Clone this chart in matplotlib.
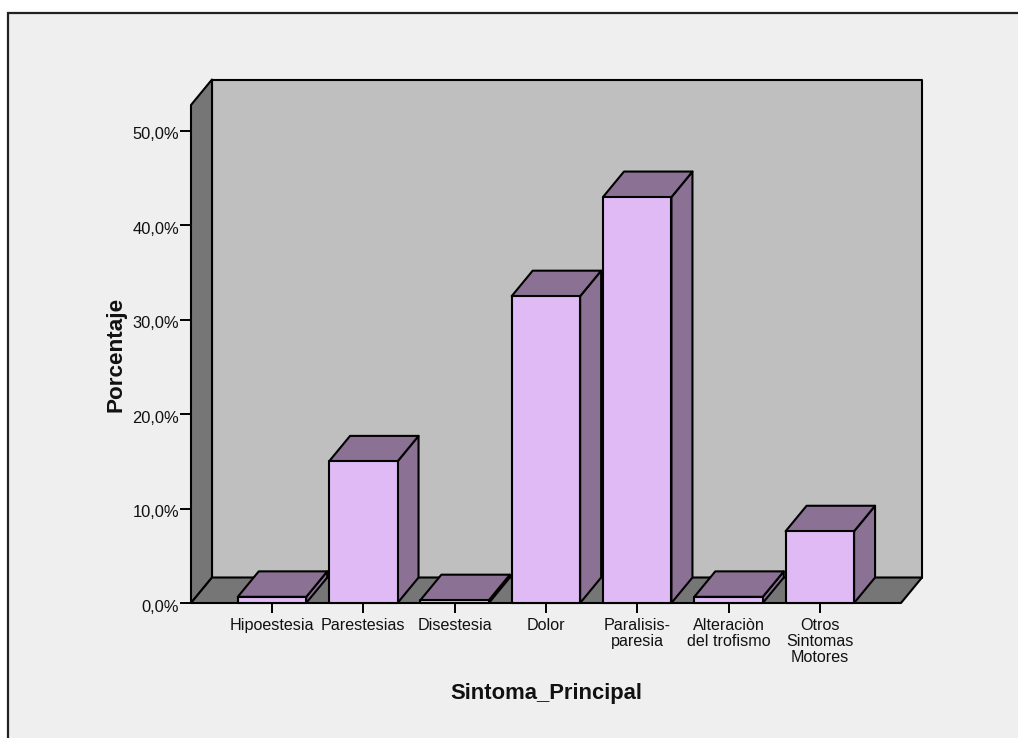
import matplotlib
matplotlib.use("Agg")
import matplotlib.pyplot as plt
from matplotlib.patches import Polygon, Rectangle
from matplotlib.transforms import ScaledTranslation

plt.rcParams["font.family"] = ["Liberation Sans", "DejaVu Sans"]

categories = ["Hipoestesia", "Parestesias", "Disestesia", "Dolor",
              "Paralisis-\nparesia", "Alteraciòn\ndel trofismo",
              "Otros\nSintomas\nMotores"]
percent = [0.65, 15.0, 0.3, 32.5, 43.0, 0.65, 7.6]
y_ticks = [0, 10, 20, 30, 40, 50]
y_labels = ["0,0%", "10,0%", "20,0%", "30,0%", "40,0%", "50,0%"]

W, H = 1018, 738
BAR_FACE = "#DFBAF4"
BAR_DARK = "#8B7294"
WALL = "#BFBFBF"
SIDE = "#767676"
BG = "#EFEFEF"
TEXT = "#111111"
LW = 1.5

fig = plt.figure(figsize=(W / 100, H / 100), dpi=100, facecolor="white")

# outer chart frame runs off the right and bottom edges
fig.patches.append(Rectangle((8 / W, -0.02), 1.1, 1 + 0.02 - 13 / H,
                             transform=fig.transFigure, facecolor=BG,
                             edgecolor="#222222", linewidth=1.6, zorder=-1))

ax = fig.add_axes([191 / W, 1 - 603 / H, (901 - 191) / W, (603 - 105) / H])
ax.patch.set_visible(False)
ax.set_xlim(-0.887, 6.889)
ax.set_ylim(0, 52.75)

# depth of the fake 3D box, in data units
dx = 0.23
dy = 2.7
xmin, xmax = ax.get_xlim()
ymin, ymax = ax.get_ylim()


def poly(points, face, z):
    ax.add_patch(Polygon(points, closed=True, facecolor=face, edgecolor="black",
                         linewidth=LW, joinstyle="round", clip_on=False, zorder=z))


# back wall, left wall and floor
poly([(xmin + dx, dy), (xmax + dx, dy), (xmax + dx, ymax + dy), (xmin + dx, ymax + dy)], WALL, 1)
poly([(xmin, 0), (xmin + dx, dy), (xmin + dx, ymax + dy), (xmin, ymax)], SIDE, 1)
poly([(xmin, 0), (xmax, 0), (xmax + dx, dy), (xmin + dx, dy)], SIDE, 1)

# bars, left to right so each one covers the previous side face
half = 0.375
for i, v in enumerate(percent):
    z = 2 + i
    l, r = i - half, i + half
    poly([(r, 0), (r + dx, dy), (r + dx, v + dy), (r, v)], BAR_DARK, z)
    poly([(l, v), (r, v), (r + dx, v + dy), (l + dx, v + dy)], BAR_DARK, z)
    poly([(l, 0), (r, 0), (r, v), (l, v)], BAR_FACE, z)

for s in ax.spines.values():
    s.set_visible(False)

ax.set_xticks(range(len(categories)))
ax.set_xticklabels(categories, fontsize=11.6, linespacing=1.08, color=TEXT)
ax.set_yticks(y_ticks)
ax.set_yticklabels(y_labels, fontsize=11.9, color=TEXT)
ax.tick_params(axis="x", length=7.5, width=1.4, pad=3.6, color="black")
ax.tick_params(axis="y", length=8, width=1.4, pad=0.6, color="black")

# y labels sit a little below their ticks
nudge = ScaledTranslation(0, -2.5 / 100, fig.dpi_scale_trans)
for lab in ax.get_yticklabels():
    lab.set_transform(lab.get_transform() + nudge)

fig.text(116 / W, 1 - 354.5 / H, "Porcentaje", rotation=90, fontsize=16.2,
         fontweight="bold", ha="center", va="center", color=TEXT)
fig.text(546 / W, 1 - 693.5 / H, "Sintoma_Principal", fontsize=15.8,
         fontweight="bold", ha="center", va="center", color=TEXT)

fig.savefig("out.png", dpi=100, facecolor=fig.get_facecolor())
